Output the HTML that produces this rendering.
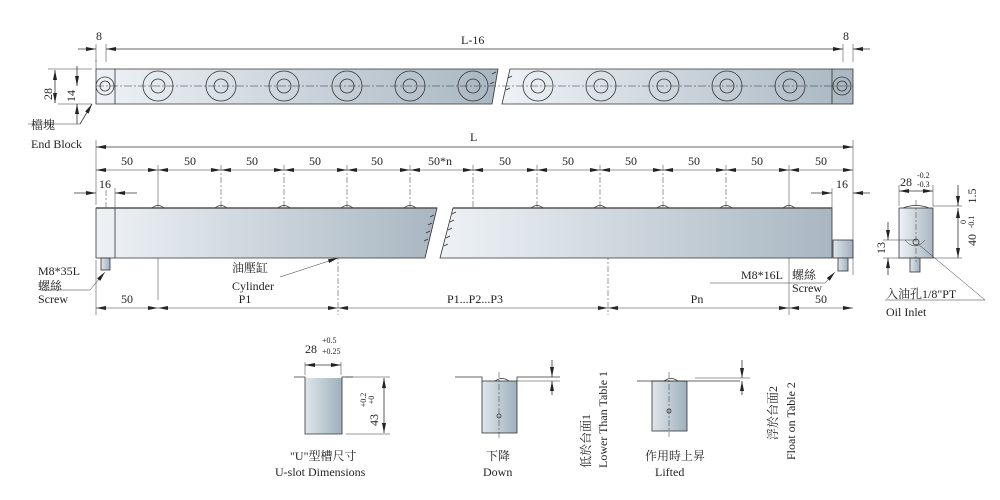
<!DOCTYPE html>
<html><head><meta charset="utf-8"><style>
html,body{margin:0;padding:0;background:#fff}
svg{display:block}
text{font-family:"Liberation Serif","Noto Serif CJK SC","Noto Sans CJK TC",serif;font-size:12px;fill:#222}
.s{font-size:8px}
</style></head><body>
<svg width="1000" height="500" viewBox="0 0 1000 500" xmlns="http://www.w3.org/2000/svg">
<defs>
<linearGradient id="g" x1="0" x2="1" y1="0" y2="0"><stop offset="0" stop-color="#eef2f6"/><stop offset="1" stop-color="#a9b7c2"/></linearGradient>
<linearGradient id="g2" x1="0" x2="1"><stop offset="0" stop-color="#dfe6ec"/><stop offset="1" stop-color="#9fb0bc"/></linearGradient>
<marker id="a" viewBox="0 0 10 6" refX="10" refY="3" markerWidth="10" markerHeight="6" orient="auto-start-reverse" markerUnits="userSpaceOnUse"><path d="M0,1 L10,3 L0,5z" fill="#222"/></marker>
</defs>
<g stroke="#333" stroke-width="0.8" fill="none">
<!-- top bar -->
<path d="M96,69 L498,69 L492,104 L96,104Z" fill="url(#g)"/>
<path d="M510,69 L853,69 L853,104 L502,104Z" fill="url(#g)"/>
<line x1="115" y1="69" x2="115" y2="104"/><line x1="832" y1="69" x2="832" y2="104"/>
<line x1="96" y1="86" x2="853" y2="86" stroke-dasharray="8,2,2,2" stroke-width="0.5"/>
<g id="h">
</g>
<circle cx="105" cy="86" r="9"/><circle cx="105" cy="86" r="5"/>
<circle cx="842" cy="86" r="9"/><circle cx="842" cy="86" r="5"/>
<g>
<circle cx="158" cy="86" r="15"/><circle cx="158" cy="86" r="7"/>
<circle cx="221" cy="86" r="15"/><circle cx="221" cy="86" r="7"/>
<circle cx="284" cy="86" r="15"/><circle cx="284" cy="86" r="7"/>
<circle cx="347" cy="86" r="15"/><circle cx="347" cy="86" r="7"/>
<circle cx="410" cy="86" r="15"/><circle cx="410" cy="86" r="7"/>
<circle cx="473" cy="86" r="15"/><circle cx="473" cy="86" r="7"/>
<circle cx="538" cy="86" r="15"/><circle cx="538" cy="86" r="7"/>
<circle cx="601" cy="86" r="15"/><circle cx="601" cy="86" r="7"/>
<circle cx="664" cy="86" r="15"/><circle cx="664" cy="86" r="7"/>
<circle cx="727" cy="86" r="15"/><circle cx="727" cy="86" r="7"/>
<circle cx="790" cy="86" r="15"/><circle cx="790" cy="86" r="7"/>
</g>
<!-- top dims -->
<line x1="96" y1="60" x2="96" y2="69" stroke-width="0.5"/><line x1="106" y1="44" x2="106" y2="62" stroke-width="0.5"/>
<line x1="96" y1="44" x2="96" y2="62" stroke-width="0.5"/>
<line x1="78" y1="49" x2="96" y2="49" marker-end="url(#a)"/>
<line x1="500" y1="49" x2="106" y2="49" marker-end="url(#a)"/>
<line x1="500" y1="49" x2="843" y2="49" marker-end="url(#a)"/>
<line x1="843" y1="44" x2="843" y2="62" stroke-width="0.5"/><line x1="853" y1="44" x2="853" y2="62" stroke-width="0.5"/>
<line x1="870" y1="49" x2="853" y2="49" marker-end="url(#a)"/>
<line x1="48" y1="69" x2="92" y2="69" stroke-width="0.5"/><line x1="58" y1="104" x2="92" y2="104" stroke-width="0.5"/>
<line x1="55" y1="70" x2="55" y2="103" marker-start="url(#a)" marker-end="url(#a)"/>
<line x1="77" y1="66" x2="77" y2="86" marker-end="url(#a)"/><line x1="77" y1="124" x2="77" y2="104" marker-end="url(#a)"/>
<line x1="80" y1="124" x2="92" y2="104" marker-end="url(#a)"/><line x1="80" y1="124" x2="28" y2="124" stroke-width="0.5"/>
<!-- L -->
<line x1="96" y1="140" x2="96" y2="205" stroke-width="0.5"/><line x1="853" y1="140" x2="853" y2="275" stroke-width="0.5"/>
<line x1="96" y1="147" x2="853" y2="147" marker-start="url(#a)" marker-end="url(#a)"/>
<!-- 50 dims -->
<g stroke-width="0.6">
<line x1="96" y1="170" x2="853" y2="170"/>
</g>
<g stroke-width="0.5">
<line x1="158" y1="165" x2="158" y2="300"/><line x1="221" y1="165" x2="221" y2="245" stroke-dasharray="6,2,2,2"/>
<line x1="284" y1="165" x2="284" y2="245" stroke-dasharray="6,2,2,2"/><line x1="347" y1="165" x2="347" y2="245" stroke-dasharray="6,2,2,2"/>
<line x1="410" y1="165" x2="410" y2="245" stroke-dasharray="6,2,2,2"/><line x1="473" y1="165" x2="473" y2="245" stroke-dasharray="6,2,2,2"/>
<line x1="537" y1="165" x2="537" y2="230" stroke-dasharray="6,2,2,2"/><line x1="600" y1="165" x2="600" y2="230" stroke-dasharray="6,2,2,2"/>
<line x1="663" y1="165" x2="663" y2="230" stroke-dasharray="6,2,2,2"/><line x1="726" y1="165" x2="726" y2="230" stroke-dasharray="6,2,2,2"/>
<line x1="789" y1="165" x2="789" y2="315"/>
<line x1="338" y1="230" x2="338" y2="315" stroke-dasharray="6,2,2,2"/>
<line x1="608" y1="230" x2="608" y2="315" stroke-dasharray="6,2,2,2"/>
<line x1="96" y1="260" x2="96" y2="315"/>
<line x1="106" y1="190" x2="106" y2="270" stroke-dasharray="6,2,2,2"/><line x1="115" y1="188" x2="115" y2="208"/>
<line x1="832" y1="188" x2="832" y2="208"/>
</g>
<g fill="#222" stroke="none">
<path d="M96,170 l10,-2 v4z M158,170 l-10,-2 v4z M158,170 l10,-2 v4z M221,170 l-10,-2 v4z M221,170 l10,-2 v4z M284,170 l-10,-2 v4z M284,170 l10,-2 v4z M347,170 l-10,-2 v4z M347,170 l10,-2 v4z M410,170 l-10,-2 v4z M410,170 l10,-2 v4z M473,170 l-10,-2 v4z M473,170 l10,-2 v4z M537,170 l-10,-2 v4z M537,170 l10,-2 v4z M600,170 l-10,-2 v4z M600,170 l10,-2 v4z M663,170 l-10,-2 v4z M663,170 l10,-2 v4z M726,170 l-10,-2 v4z M726,170 l10,-2 v4z M789,170 l-10,-2 v4z M789,170 l10,-2 v4z M853,170 l-10,-2 v4z"/>
<path d="M96,308 l10,-2 v4z M158,308 l-10,-2 v4z M158,308 l10,-2 v4z M338,308 l-10,-2 v4z M338,308 l10,-2 v4z M608,308 l-10,-2 v4z M608,308 l10,-2 v4z M789,308 l-10,-2 v4z M789,308 l10,-2 v4z M853,308 l-10,-2 v4z"/>
</g>
<line x1="96" y1="308" x2="853" y2="308" stroke-width="0.6"/>
<line x1="74" y1="193" x2="96" y2="193" marker-end="url(#a)"/><line x1="137" y1="193" x2="115" y2="193" marker-end="url(#a)"/>
<line x1="811" y1="193" x2="832" y2="193" marker-end="url(#a)"/><line x1="870" y1="193" x2="853" y2="193" marker-end="url(#a)"/>
<!-- lower bar -->
<path d="M96,208 L437,208 L425,258 L96,258Z" fill="url(#g)"/>
<path d="M453,208 L832,208 L832,258 L440,258Z" fill="url(#g)"/>
<line x1="115" y1="208" x2="115" y2="258"/>
<line x1="96" y1="208" x2="437" y2="208" stroke-width="1.5" stroke="#555"/>
<line x1="453" y1="208" x2="832" y2="208" stroke-width="1.5" stroke="#555"/>
<path d="M152,208 q6,-5 12,0 M215,208 q6,-5 12,0 M278,208 q6,-5 12,0 M341,208 q6,-5 12,0 M404,208 q6,-5 12,0 M531,208 q6,-5 12,0 M594,208 q6,-5 12,0 M657,208 q6,-5 12,0 M720,208 q6,-5 12,0 M783,208 q6,-5 12,0"/>
<path d="M434,215 l-4,2 M432,223 l-4,2 M430,231 l-4,2 M428,239 l-4,2 M456,212 l-4,2 M454,220 l-4,2 M452,228 l-4,2 M450,236 l-4,2 M448,244 l-4,2"/>
<path d="M496,72 l-4,2 M494,82 l-4,2 M512,76 l-4,2 M510,88 l-4,2"/>
<rect x="101" y="258" width="9" height="12" fill="url(#g2)"/>
<rect x="833" y="240" width="20" height="18" fill="url(#g2)"/>
<rect x="838" y="258" width="10" height="13" fill="url(#g2)"/>
<line x1="105" y1="272" x2="90" y2="290" marker-start="url(#a)" stroke-width="0.5"/><line x1="90" y1="290" x2="40" y2="290" stroke-width="0.5"/>
<line x1="338" y1="258" x2="280" y2="277" marker-start="url(#a)" stroke-width="0.5"/>
<line x1="835" y1="272" x2="825" y2="283" marker-start="url(#a)" stroke-width="0.5"/><line x1="825" y1="283" x2="710" y2="283" stroke-width="0.5"/>
<!-- side view -->
<rect x="899" y="208" width="34" height="50" fill="url(#g)"/>
<rect x="910" y="258" width="10" height="14" fill="url(#g2)"/>
<path d="M903,208 q13,-5 26,0"/>
<path d="M905,240 q10,12 20,0" stroke-width="0.5"/><circle cx="916" cy="242" r="3"/>
<line x1="916" y1="200" x2="916" y2="262" stroke-dasharray="6,2,2,2" stroke-width="0.5"/>
<line x1="899" y1="185" x2="899" y2="206" stroke-width="0.5"/><line x1="933" y1="185" x2="933" y2="206" stroke-width="0.5"/>
<line x1="899" y1="191" x2="933" y2="191" marker-start="url(#a)" marker-end="url(#a)"/>
<line x1="933" y1="206" x2="962" y2="206" stroke-width="0.5"/><line x1="933" y1="258" x2="962" y2="258" stroke-width="0.5"/>
<line x1="958" y1="185" x2="958" y2="206" marker-end="url(#a)"/><line x1="958" y1="230" x2="958" y2="208" marker-end="url(#a)"/>
<line x1="958" y1="230" x2="958" y2="258" marker-end="url(#a)"/>
<line x1="883" y1="240" x2="916" y2="240" stroke-width="0.5"/><line x1="883" y1="258" x2="899" y2="258" stroke-width="0.5"/>
<line x1="888" y1="222" x2="888" y2="240" marker-end="url(#a)"/><line x1="888" y1="275" x2="888" y2="258" marker-end="url(#a)"/>
<line x1="918" y1="244" x2="985" y2="300" stroke-width="0.5"/><line x1="985" y1="300" x2="885" y2="300" stroke-width="0.5"/>
<!-- U slot -->
<rect x="305" y="378" width="37" height="56" fill="url(#g2)" stroke="none"/>
<path d="M294,377 H305 V434 H342 V377 H353"/>
<line x1="305" y1="362" x2="305" y2="375" stroke-width="0.5"/><line x1="341" y1="362" x2="341" y2="375" stroke-width="0.5"/>
<line x1="305" y1="365" x2="341" y2="365" marker-start="url(#a)" marker-end="url(#a)"/>
<line x1="345" y1="377" x2="390" y2="377" stroke-width="0.5"/><line x1="346" y1="434" x2="390" y2="434" stroke-width="0.5"/>
<line x1="384" y1="378" x2="384" y2="433" marker-start="url(#a)" marker-end="url(#a)"/>
<!-- Down -->
<rect x="482" y="381" width="35" height="52" fill="url(#g2)"/>
<path d="M455,377 H482 V381 M517,381 V377 H560"/>
<path d="M495,381 q7,-5 14,0"/>
<line x1="499" y1="372" x2="499" y2="440" stroke-dasharray="6,2,2,2" stroke-width="0.5"/>
<circle cx="499" cy="416" r="2"/>
<line x1="517" y1="381" x2="560" y2="381" stroke-width="0.5"/>
<line x1="552" y1="360" x2="552" y2="377" marker-end="url(#a)"/><line x1="552" y1="395" x2="552" y2="381" marker-end="url(#a)"/>
<!-- Lifted -->
<rect x="652" y="381" width="35" height="50" fill="url(#g2)"/>
<path d="M637,381 H740"/>
<path d="M664,381 q7,-5 14,0"/>
<line x1="669" y1="372" x2="669" y2="437" stroke-dasharray="6,2,2,2" stroke-width="0.5"/>
<circle cx="669" cy="411" r="2"/>
<line x1="695" y1="378" x2="750" y2="378" stroke-width="0.5"/>
<line x1="742" y1="360" x2="742" y2="378" marker-end="url(#a)"/><line x1="742" y1="395" x2="742" y2="381" marker-end="url(#a)"/>
</g>
<!-- texts -->
<text x="96" y="40">8</text><text x="461" y="44">L-16</text><text x="843" y="40">8</text>
<text x="52" y="94" transform="rotate(-90 52 94)" text-anchor="middle">28</text>
<text x="75" y="96" transform="rotate(-90 75 96)" text-anchor="middle">14</text>
<text x="31" y="129">檔塊</text><text x="31" y="148">End Block</text>
<text x="470" y="141">L</text>
<g text-anchor="middle">
<text x="127" y="165">50</text><text x="190" y="165">50</text><text x="252" y="165">50</text><text x="315" y="165">50</text><text x="377" y="165">50</text><text x="440" y="165">50*n</text>
<text x="505" y="165">50</text><text x="568" y="165">50</text><text x="631" y="165">50</text><text x="694" y="165">50</text><text x="757" y="165">50</text><text x="821" y="165">50</text>
<text x="105" y="188">16</text><text x="842" y="188">16</text>
<text x="127" y="303">50</text><text x="245" y="303">P1</text><text x="475" y="303">P1...P2...P3</text><text x="697" y="303">Pn</text><text x="821" y="303">50</text>
</g>
<text x="38" y="275">M8*35L</text><text x="38" y="290">螺絲</text><text x="38" y="303">Screw</text>
<text x="232" y="272">油壓缸</text><text x="232" y="290">Cylinder</text>
<text x="741" y="279">M8*16L</text><text x="792" y="279">螺絲</text><text x="792" y="292">Screw</text>
<text x="900" y="186">28</text><text class="s" x="917" y="178">-0.2</text><text class="s" x="917" y="187">-0.3</text>
<text x="976" y="196" transform="rotate(-90 976 196)" text-anchor="middle">1.5</text>
<text x="976" y="240" transform="rotate(-90 976 240)" text-anchor="middle">40</text>
<text class="s" x="966" y="222" transform="rotate(-90 966 222)" text-anchor="middle">0</text>
<text class="s" x="974" y="222" transform="rotate(-90 974 222)" text-anchor="middle">-0.1</text>
<text x="885" y="248" transform="rotate(-90 885 248)" text-anchor="middle">13</text>
<text x="886" y="298">入油孔1/8"PT</text><text x="886" y="316">Oil Inlet</text>
<text x="305" y="353">28</text><text class="s" x="322" y="343">+0.5</text><text class="s" x="322" y="354">+0.25</text>
<text x="378" y="420" transform="rotate(-90 378 420)" text-anchor="middle">43</text>
<text class="s" x="366" y="400" transform="rotate(-90 366 400)" text-anchor="middle">+0.2</text>
<text class="s" x="374" y="400" transform="rotate(-90 374 400)" text-anchor="middle">+0</text>
<text x="290" y="460">"U"型槽尺寸</text><text x="275" y="476">U-slot Dimensions</text>
<text x="486" y="460">下降</text><text x="483" y="476">Down</text>
<text x="645" y="460">作用時上昇</text><text x="655" y="476">Lifted</text>
<text x="590" y="468" transform="rotate(-90 590 468)">低於台面1</text>
<text x="607" y="468" transform="rotate(-90 607 468)">Lower Than Table 1</text>
<text x="777" y="440" transform="rotate(-90 777 440)">浮於台面2</text>
<text x="795" y="460" transform="rotate(-90 795 460)">Float on Table 2</text>
</svg>
</body></html>
